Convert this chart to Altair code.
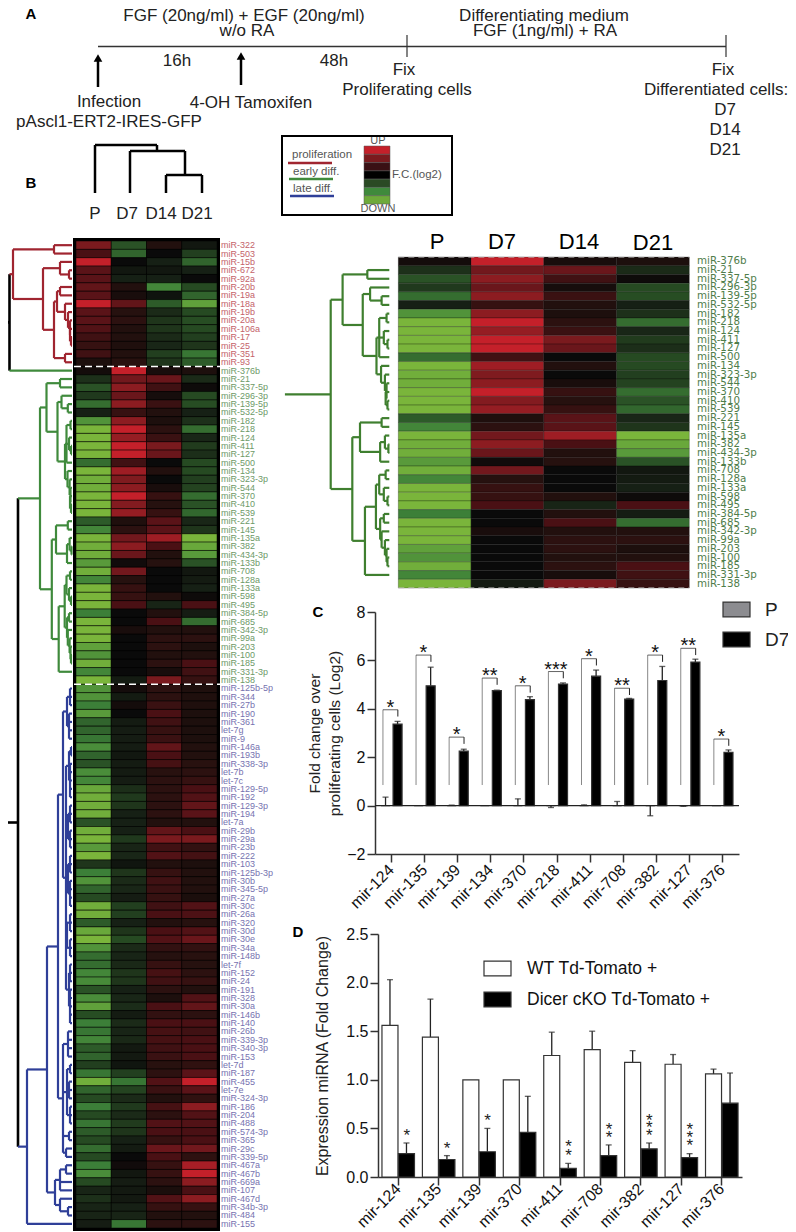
import altair as alt
import pandas as pd

FONT = "Liberation Sans"
RED, GREEN, BLUE, BLACK = "#a02530", "#3f8a3c", "#2f3f98", "#000000"

RED_NAMES = ["miR-322","miR-503","miR-15b","miR-672","miR-92a","miR-20b","miR-19a","miR-18a","miR-19b","miR-20a","miR-106a","miR-17","miR-25","miR-351","miR-93"]
RED_ROWS = [(6,-3.5,1,-.5),(3,-4.5,0,-2.5),(10,0,-1,-4.5),(4,-.5,-.5,-1),(4,-1,-1,0),(4.5,1,-6.5,-3),(4,.5,-.3,-4.5),(10,4.5,-4,-8.5),(4,1.2,-1.5,-3),(4,1.5,-2,-3.2),(3.5,1,-2,-3),(2.5,1,-1.5,-2.5),(2,.8,-1.3,-2),(2.5,1,-2.5,-5.5),(.7,1.3,-2,-4)]
GREEN_NAMES = ["miR-376b","miR-21","miR-337-5p","miR-296-3p","miR-139-5p","miR-532-5p","miR-182","miR-218","miR-124","miR-411","miR-127","miR-500","miR-134","miR-323-3p","miR-544","miR-370","miR-410","miR-539","miR-221","miR-145","miR-135a","miR-382","miR-434-3p","miR-133b","miR-708","miR-128a","miR-133a","miR-598","miR-495","miR-384-5p","miR-685","miR-342-3p","miR-99a","miR-203","miR-100","miR-185","miR-331-3p","miR-138"]
GREEN_ROWS = [(.3,10,.5,.7),(-1.8,5.5,5,-1.5),(-3.5,7,2.5,.1),(-2.2,5,.4,-3),(-5,7,2.2,-3.2),(-1,2,1,-1),(-7.5,7,.7,-1.8),(-10,10,1.5,-5),(-10,7.5,2.2,-1.3),(-10,10,6,-2.3),(-10,10,5,-1.7),(-5,2.5,0,-3),(-10,8,1,-3),(-9.5,6.3,0,-2.5),(-9.5,7,.5,-2.7),(-10,10,2,-5),(-10,6.5,1.2,-3.5),(-10,7.5,2,-4.7),(-4,.8,4,-1.3),(-6.5,1.5,4,-2),(-10,5.5,8,-10),(-9.5,7,3,-9),(-9.5,5,1,-8),(-8,.2,1.2,-3.5),(-9.5,5.5,0,-.5),(-6.5,1.2,0,-.7),(-10,2,0,-1),(-10,2,1,.1),(-10,3,-1.2,3),(-6,0,1,-.8),(-10,0,3,-5),(-10,.5,1,1),(-10,0,1.5,1.5),(-8.5,0,1.5,.7),(-7.5,0,1,1),(-9.5,0,1.5,3),(-6.5,0,.5,2.5),(-10,-.7,6,2)]
BLUE_NAMES = ["miR-125b-5p","miR-344","miR-27b","miR-190","miR-361","let-7g","miR-9","miR-146a","miR-193b","miR-338-3p","let-7b","let-7c","miR-129-5p","miR-192","miR-129-3p","miR-194","let-7a","miR-29b","miR-29a","miR-23b","miR-222","miR-103","miR-125b-3p","miR-30b","miR-345-5p","miR-27a","miR-30c","miR-26a","miR-320","miR-30d","miR-30e","miR-34a","miR-148b","let-7f","miR-152","miR-24","miR-191","miR-328","miR-30a","miR-146b","miR-140","miR-26b","miR-339-3p","miR-340-3p","miR-153","let-7d","miR-187","miR-455","let-7e","miR-324-3p","miR-186","miR-204","miR-488","miR-574-3p","miR-365","miR-29c","miR-339-5p","miR-467a","miR-467b","miR-669a","miR-107","miR-467d","miR-34b-3p","miR-484","miR-155"]
BLUE_ROWS = [(-7.5,.3,1.5,.8),(-7.5,-.7,1.5,.8),(-6,.3,2.2,.8),(-8,0,3,.7),(-4.5,-.7,2.5,.7),(-4.5,-.8,2,.7),(-5.5,-.8,2.2,.7),(-7,-.8,4.5,1),(-4.5,-.5,3,1),(-3.5,-.7,2.8,1.3),(-7,-.7,1.3,1.5),(-6.5,-.8,1.5,2),(-9,-1.7,1.5,3),(-9.5,-2.2,1.5,3.5),(-9.5,-2,1.5,4.5),(-9.5,-1,1.5,4),(-3.5,-1,1,1),(-9.5,-1,4.5,3),(-10,-2.2,6,6),(-8,-1.2,2.5,1.8),(-10,-1.3,3.5,2.7),(-2,-.4,1,.7),(-6,-2,2,1),(-7.5,-1.5,2.5,1),(-4.5,-1.3,2.2,1),(-3,-.8,2,.6),(-9.5,-2.5,2.5,3.5),(-9.5,-2.5,3,3.2),(-4,-1,1,1.2),(-9,-2,3,3.5),(-10,-3,3.5,5),(-7.5,-1.5,1.8,1.8),(-5,-1.2,1.2,1.3),(-5,-1.4,2,1.2),(-6.5,-2,2.8,1.5),(-6.8,-2,2.5,2),(-3.5,-1,1.5,1),(-7,-1.3,.7,3.5),(-8.5,-1.6,3,4.5),(-3.2,-.7,1.8,1.5),(-6,-1.5,3,3),(-5.5,-1.2,2.8,2.5),(-6.5,-1.4,2.8,3),(-4,-.6,2.5,3),(-4.5,-.6,2.2,3),(-2.5,-.4,1.3,1.7),(-5.5,-2.5,1.5,4),(-9.5,-5.5,3.5,10),(-4.5,-2.7,2.2,4),(-3,-1.5,1,1.7),(-6,-2.2,2.8,7),(-3,-1.5,1.5,3.5),(-5.5,-2.3,3.5,3.5),(-4,-2,3,3),(-3,-1,2,3),(-5,-.7,5,5.5),(-3,0,3,1.6),(-6,.2,2,8.5),(-7,-.5,2,10),(-3,-.8,1.5,7),(-1.2,-.6,.6,3),(-1.8,-.6,3.5,7),(-1.2,-1,2,2),(-1.2,-1.2,1,1),(-.8,-5.5,1.5,1.5)]

# dendrograms: (merge distance, children[, colour]); an integer child is a heat-map row
RED_TREE = (13, [(54, [0, 1]), (43, [(60, [2, (69, [3, 4])]),
            (54, [(57, [(60, [5, 6]), (65, [7, (68, [8, (70, [9, (70, [10, (71, [11, 12])])])])])]), (65, [13, 14])])])], RED)
GREEN_TREE = (40, [
    (46.5, [(60, [16, 17]), (57.5, [(61.5, [18, (67.8, [19, 20])]),
        (65, [(66.5, [(70.5, [21, 22]), (69, [23, (71, [24, 25])]), 26]),
              (67.5, [27, (69.6, [28, (70.5, [29, (70, [30, (71, [31, 32])])])])])])])]),
    (51.8, [(56, [(67.8, [33, 34]), (67, [(69.6, [35, (71.5, [36, 37])]), 38])]),
            (58.7, [(64.7, [(66.5, [(70, [39, 40]), (69, [41, (71, [42, 43])])]),
                            (67, [(69, [44, 45]), (67.8, [46, (69.6, [47, (70.5, [48, (71, [49, 50])])])])])]), 51])]),
], GREEN)
BLUE_TREE = (27, [(47, [(58, [
        (63, [(67, [(70, [53, 54, 55]), (69, [56, 57, 58, 59])]),
              (66, [(69, [(71, [60, 61]), (70, [62, 63, 64, 65, 66])]), (68, [(70, [67, 68, 69]), (70, [70, 71, 72])]),
                    (68, [(70, [73, 74, 75]), (70, [76, 77, 78, 79])]), (67, [(70, [80, 81, 82]), (70, [83, 84, 85])]),
                    (69, [(70, [86, 87, 88]), (70, [89, 90, 91, 92, 93])])])]),
        (63, [(68, [94, 95, 96, 97]), (67, [(70, [98, 99]), (69, [100, 101, 102]), (70, [103, 104, 105])]), (69, [106, 107]), (66, [108, 109])])]),
    (55, [(60, [(66, [110, 111]), 112, 113]), (60, [114, (68, [115, 116])])])]), 117], BLUE)
TREE = (0, [(9.5, [RED_TREE, (72, [15], GREEN)], BLACK), (18, [GREEN_TREE, BLUE_TREE], BLACK)], BLACK)

# panel C
GENES_C = ["mir-124","mir-135","mir-139","mir-134","mir-370","mir-218","mir-411","mir-708","mir-382","mir-127","mir-376"]
C_P = [0, 0, 0, 0, 0, 0, 0, 0, 0, 0, 0]
C_P_ERR = [.35, 0, .02, 0, .28, -.08, .03, .17, -.42, -.03, 0]
C_D7 = [3.37, 4.95, 2.25, 4.75, 4.38, 5.02, 5.35, 4.4, 5.17, 5.93, 2.2]
C_D7_ERR = [3.48, 5.72, 2.33, 4.77, 4.5, 5.07, 5.6, 4.43, 5.75, 6.05, 2.3]
C_BRACKET = [3.96, 6.22, 2.83, 5.27, 4.95, 5.54, 6.07, 4.85, 6.22, 6.5, 2.75]
C_STARS = ["*", "*", "*", "**", "*", "***", "*", "**", "*", "**", "*"]

# panel D
GENES_D = ["mir-124","mir-135","mir-139","mir-370","mir-411","mir-708","mir-382","mir-127","mir-376"]
WT_NAME, KO_NAME = "WT Td-Tomato +", "Dicer cKO Td-Tomato +"
D_WT = [1.56, 1.44, 1.0, 1.0, 1.25, 1.31, 1.18, 1.16, 1.06]
D_WT_ERR = [2.03, 1.83, 1.0, 1.0, 1.49, 1.5, 1.3, 1.26, 1.11]
D_KO = [.24, .18, .26, .46, .09, .22, .29, .2, .76]
D_KO_ERR = [.35, .22, .5, .83, .14, .33, .35, .24, 1.07]
D_STARS = [("mir-124", .44), ("mir-135", .31), ("mir-139", .6), ("mir-411", .33), ("mir-411", .24),
           ("mir-708", .5), ("mir-708", .42), ("mir-382", .6), ("mir-382", .52), ("mir-382", .44),
           ("mir-127", .5), ("mir-127", .42), ("mir-127", .34)]

# schematic texts: text, x, y, size, colour
TEXT_MID = [
    ("FGF (20ng/ml) + EGF (20ng/ml)", 244, 16, 17, "#222"), ("w/o RA", 247, 31, 17, "#222"),
    ("Differentiating medium", 544, 16, 17, "#222"), ("FGF (1ng/ml) + RA", 545, 31, 17, "#222"),
    ("16h", 177, 61, 17, "#222"), ("48h", 334, 61, 17, "#222"),
    ("Fix", 404, 70, 17, "#222"), ("Proliferating cells", 407, 90, 17, "#222"),
    ("Fix", 723, 70, 17, "#222"), ("Differentiated cells:", 716, 90, 17, "#222"),
    ("D7", 725, 110, 17, "#222"), ("D14", 725, 130, 17, "#222"), ("D21", 725, 150, 17, "#222"),
    ("Infection", 109, 102, 17, "#222"), ("pAscl1-ERT2-IRES-GFP", 109, 122, 17, "#222"), ("4-OH Tamoxifen", 251, 103, 17, "#222"),
    ("P", 95, 214, 17, "#222"), ("D7", 127, 214, 17, "#222"), ("D14", 161, 214, 17, "#222"), ("D21", 197, 214, 17, "#222"),
    ("UP", 378, 141, 11, "#555"), ("DOWN", 378, 209, 11, "#555"),
    ("P", 437, 242, 22, "#000"), ("D7", 502, 242, 22, "#000"), ("D14", 579, 242, 22, "#000"), ("D21", 653, 243, 22, "#000"),
]
TEXT_LEFT = [("proliferation", 292, 155, 11.5, "#555"), ("early diff.", 293, 172, 11.5, "#555"),
             ("late diff.", 293, 189, 11.5, "#555"), ("F.C.(log2)", 392, 175, 11.5, "#555")]
TEXT_BOLD = [("A", 31, 14, 15, "#000"), ("B", 31, 183, 15, "#000"), ("C", 318, 612, 15, "#000"), ("D", 298, 932, 15, "#000")]
# schematic lines: x1, y1, x2, y2, colour, width
LINES = [(98, 46.5, 726, 46.5, "#333", 1.5), (407, 35, 407, 57, "#333", 1.2), (726, 35, 726, 57, "#333", 1.2),
         (98, 87, 98, 60, "#000", 2.5), (241, 85, 241, 58, "#000", 2.5),
         (95, 193, 95, 145, "#000", 2.5), (95, 145, 157, 145, "#000", 2.5), (157, 145, 157, 151, "#000", 2.5),
         (130, 193, 130, 151, "#000", 2.5), (130, 151, 185, 151, "#000", 2.5), (185, 151, 185, 175, "#000", 2.5),
         (166, 193, 166, 175, "#000", 2.5), (166, 175, 202, 175, "#000", 2.5), (202, 175, 202, 193, "#000", 2.5),
         (288, 163, 332, 163, RED, 2.5), (289, 179, 333, 179, GREEN, 2.5), (290, 196, 334, 196, BLUE, 2.5)]
ARROW_TIPS = [(98, 58), (241, 56)]
BAR_COLORS = ["#c4202a", "#7a1a1e", "#3a1014", "#000000", "#2a4a24", "#3f8a3c", "#6eaa3a"]
BAR_EDGES = [146, 154.3, 162.6, 170.9, 179.1, 187.4, 195.7, 204]


def walk(node, col, segs):
    if isinstance(node, int):
        return 72, node + .5, col
    d, kids = node[:2]
    col = node[2] if len(node) > 2 else col
    info = [walk(k, col, segs) for k in kids]
    rows = [i[1] for i in info]
    segs.append(dict(d1=d, d2=d, r1=rows[0], r2=rows[-1], c=col, w=2.6 if col == BLACK else 2.2))
    for kd, kr, kc in info:
        segs.append(dict(d1=d, d2=kd, r1=kr, r2=kr, c=kc, w=2.6 if kc == BLACK else 2.2))
    return d, (rows[0] + rows[-1]) / 2, col


def px_x(field="x"):
    return alt.X(f"{field}:Q", scale=alt.Scale(domain=[8, 788], range=[0, 780]), axis=None)


def px_y(field="y"):
    return alt.Y(f"{field}:Q", scale=alt.Scale(domain=[8, 1232], range=[0, 1224]), axis=None)


def texts(rows, **mark):
    df = pd.DataFrame(rows, columns=["t", "x", "y", "s", "c"])
    return alt.Chart(df).mark_text(font=FONT, baseline="middle", **mark).encode(
        x=px_x(), y=px_y(), text="t:N", size=alt.Size("s:Q", scale=None), color=alt.Color("c:N", scale=None))


layers = [texts(TEXT_MID, align="center"), texts(TEXT_LEFT, align="left"), texts(TEXT_BOLD, align="center", fontWeight="bold")]

# --- schematic
dfl = pd.DataFrame(LINES, columns=["x", "y", "x2", "y2", "c", "w"])
layers.append(alt.Chart(dfl).mark_rule().encode(x=px_x(), x2="x2:Q", y=px_y(), y2="y2:Q",
              color=alt.Color("c:N", scale=None), strokeWidth=alt.StrokeWidth("w:Q", scale=None)))
layers.append(alt.Chart(pd.DataFrame(ARROW_TIPS, columns=["x", "y"])).mark_point(shape="triangle-up", filled=True, size=75, color="#000", opacity=1)
              .encode(x=px_x(), y=px_y()))
layers.append(alt.Chart(pd.DataFrame([dict(x=282, x2=452, y=136, y2=215)])).mark_rect(fill=None, stroke="#000", strokeWidth=2)
              .encode(x=px_x(), x2="x2:Q", y=px_y(), y2="y2:Q"))
dfb = pd.DataFrame(dict(x=364, x2=390, y=BAR_EDGES[:-1], y2=BAR_EDGES[1:], c=BAR_COLORS))
layers.append(alt.Chart(dfb).mark_rect(stroke="#555", strokeWidth=.5).encode(x=px_x(), x2="x2:Q", y=px_y(), y2="y2:Q",
              color=alt.Color("c:N", scale=None)))

# --- heat maps
cells = []
names = RED_NAMES + GREEN_NAMES + BLUE_NAMES
vals = RED_ROWS + GREEN_ROWS + BLUE_ROWS
label_cols = ["#c4626a"] * 15 + ["#6d9a68"] * 38 + ["#7672b0"] * 65
for r, row in enumerate(vals):
    for c, v in enumerate(row):
        cells.append(dict(row=r, row2=r + 1, col=c, col2=c + 1, v=v))
cells = pd.DataFrame(cells)
heat_scale = dict(domain=[-10, -6, -3, 0, 3, 6, 10], range=["#7ab53b", "#3c7f38", "#264a22", "#0a0a0a", "#4a1014", "#7a1a1e", "#c4202a"])


def heat_layers(df, xr, yr, rdom, sw):
    xs = alt.Scale(domain=[0, 4], range=xr)
    ys = alt.Scale(domain=rdom, range=yr)
    return alt.Chart(df).mark_rect(stroke="#000", strokeWidth=sw).encode(
        x=alt.X("col:Q", scale=xs, axis=None), x2="col2:Q",
        y=alt.Y("row:Q", scale=ys, axis=None), y2="row2:Q",
        color=alt.Color("v:Q", scale=alt.Scale(**heat_scale), legend=None))


# left
back = pd.DataFrame([dict(x=73, x2=220, y=238, y2=1231)])
layers.append(alt.Chart(back).mark_rect(fill="#000").encode(x=px_x(), x2="x2:Q", y=px_y(), y2="y2:Q"))
LEFT_Y = [233, 1220]
layers.append(heat_layers(cells, [68, 209], LEFT_Y, [0, 118], .5))
lab = pd.DataFrame(dict(n=names, r=[i + .5 for i in range(118)], c=label_cols))
layers.append(alt.Chart(lab).mark_text(font=FONT, fontSize=9, align="left", baseline="middle").encode(
    x=alt.value(213), y=alt.Y("r:Q", scale=alt.Scale(domain=[0, 118], range=LEFT_Y), axis=None),
    text="n:N", color=alt.Color("c:N", scale=None)))
dash = pd.DataFrame(dict(r=[15, 53]))
layers.append(alt.Chart(dash).mark_rule(color="#fff", strokeWidth=1.5, strokeDash=[7, 4]).encode(
    x=alt.value(66), x2=alt.value(213), y=alt.Y("r:Q", scale=alt.Scale(domain=[0, 118], range=LEFT_Y), axis=None)))

# left dendrogram
segs = []
walk(TREE, BLACK, segs)
segs = pd.DataFrame(segs)
layers.append(alt.Chart(segs).mark_rule().encode(
    x=alt.X("d1:Q", scale=alt.Scale(domain=[8, 72], range=[0, 64]), axis=None), x2="d2:Q",
    y=alt.Y("r1:Q", scale=alt.Scale(domain=[0, 118], range=LEFT_Y), axis=None), y2="r2:Q",
    color=alt.Color("c:N", scale=None), strokeWidth=alt.StrokeWidth("w:Q", scale=None)))

# right heat map
cg = cells[(cells.row >= 15) & (cells.row < 53)]
RIGHT_Y = [249, 580]
layers.append(heat_layers(cg, [390.3, 681.3], RIGHT_Y, [15, 53], .25))
lab2 = pd.DataFrame(dict(n=GREEN_NAMES, r=[15.5 + i for i in range(38)]))
layers.append(alt.Chart(lab2).mark_text(font="DejaVu Sans", fontSize=10.3, align="left", baseline="middle", color="#4f7d4a").encode(
    x=alt.value(689), y=alt.Y("r:Q", scale=alt.Scale(domain=[15, 53], range=RIGHT_Y), axis=None), text="n:N"))
layers.append(alt.Chart(pd.DataFrame(dict(r=[15, 53]))).mark_rule(color="#ccc", strokeWidth=1, strokeDash=[6, 4]).encode(
    x=alt.value(390.3), x2=alt.value(681.3), y=alt.Y("r:Q", scale=alt.Scale(domain=[15, 53], range=RIGHT_Y), axis=None)))
segs2 = []
_, rc, _ = walk(GREEN_TREE, GREEN, segs2)
segs2.append(dict(d1=15, d2=40, r1=rc, r2=rc, c=GREEN, w=2.2))
layers.append(alt.Chart(pd.DataFrame(segs2)).mark_rule(strokeWidth=2.2, color="#3f7f2f").encode(
    x=alt.X("d1:Q", scale=alt.Scale(domain=[40, 72], range=[322.7, 381.3]), axis=None), x2="d2:Q",
    y=alt.Y("r1:Q", scale=alt.Scale(domain=[15, 53], range=RIGHT_Y), axis=None), y2="r2:Q"))


# --- bar panels
def bar_layers(genes, groups, vals, errs, colors, xr, yr, ydom, yvals, ytitle, step_in, step_out, legend, offset_bottom, offset_left,
               label_fmt=None, ttl_pad=6, ttl_size=15.5, lab_pad=5):
    rows = []
    for g, v, e in zip(groups, vals, errs):
        for gene, a, b in zip(genes, v, e):
            rows.append(dict(gene=gene, group=g, v=a, e=b))
    df = pd.DataFrame(rows)
    xs = alt.Scale(domain=genes, range=xr, paddingInner=0, paddingOuter=0)
    xo = alt.XOffset("group:N", sort=groups, scale=alt.Scale(domain=groups, paddingInner=step_in, paddingOuter=step_out))
    ys = alt.Scale(domain=ydom, range=yr, nice=False, zero=False)
    xaxis = alt.Axis(orient="bottom", offset=offset_bottom, title=None, labelAngle=-45, labelAlign="right", labelBaseline="middle",
                     labelFontSize=16, labelFont=FONT, labelColor="#111", labelPadding=lab_pad, tickSize=8, tickWidth=1.5, tickColor="#333",
                     domainColor="#333", domainWidth=1.5, grid=False, labelOverlap=False, labelBound=False, labelFlush=False)
    yaxis = alt.Axis(orient="left", offset=offset_left, title=ytitle, values=yvals, format=label_fmt or "", labelFontSize=16, labelFont=FONT,
                     labelColor="#111", tickSize=8, tickWidth=1.5, tickColor="#333", domainColor="#333", domainWidth=1.5, grid=False,
                     titleFont=FONT, titleFontSize=ttl_size, titleFontWeight="normal", titleColor="#222", titlePadding=ttl_pad, titleLineHeight=20,
                     labelPadding=2, labelFlush=False, labelBound=False)
    x_plain = alt.X("gene:N", scale=xs, sort=genes, axis=None)
    y_plain = alt.Y("e:Q", scale=ys, axis=None)
    out = []
    out.append(alt.Chart(df).mark_rule(color="#222", strokeWidth=1.3).encode(x=x_plain, xOffset=xo, y=y_plain, y2="v:Q"))
    out.append(alt.Chart(df[df.e != df.v]).mark_tick(color="#222", size=6, thickness=1.3, orient="horizontal").encode(x=x_plain, xOffset=xo, y=y_plain))
    out.append(alt.Chart(df).mark_bar(stroke="#333", strokeWidth=1.2).encode(
        x=alt.X("gene:N", scale=xs, sort=genes, axis=xaxis), xOffset=xo,
        y=alt.Y("v:Q", scale=ys, axis=yaxis),
        color=alt.Color("group:N", scale=alt.Scale(domain=groups, range=colors), legend=legend)))
    return out, x_plain, ys


leg_c = alt.Legend(orient="none", legendX=714, legendY=587, title=None, symbolType="M-1,-0.55H1V0.55H-1Z", symbolSize=729, symbolStrokeColor="#333",
                   symbolStrokeWidth=1.2, labelFontSize=19, labelFont=FONT, labelColor="#222", labelOffset=14, rowPadding=5, symbolOpacity=1)
bars_c, xc, ysc = bar_layers(GENES_C, ["P", "D7"], [C_P, C_D7], [C_P_ERR, C_D7_ERR], ["#8c8c90", "#000000"],
                             [367, 731], [846, 604], [-2, 8], [-2, 0, 2, 4, 6, 8],
                             ["Fold change over", "proliferating cells (Log2)"], .25, .5, leg_c, -378, -367, None, 4)
layers += bars_c
layers.append(alt.Chart(pd.DataFrame(dict(z=[0]))).mark_rule(color="#222", strokeWidth=1.2).encode(
    x=alt.value(367), x2=alt.value(731), y=alt.Y("z:Q", scale=ysc, axis=None)))
dfs = pd.DataFrame(dict(gene=GENES_C, top=C_BRACKET, low=[.85] * 11, inner=[t - .28 for t in C_BRACKET], s=C_STARS))
layers.append(alt.Chart(dfs).mark_rule(color="#888", strokeWidth=1, xOffset=-8.6).encode(x=xc, y=alt.Y("low:Q", scale=ysc, axis=None), y2="top:Q"))
layers.append(alt.Chart(dfs).mark_rule(color="#222", strokeWidth=1, xOffset=6.3).encode(x=xc, y=alt.Y("top:Q", scale=ysc, axis=None), y2="inner:Q"))
layers.append(alt.Chart(dfs).mark_tick(color="#222", size=15, thickness=1, orient="horizontal", xOffset=-1.15).encode(x=xc, y=alt.Y("top:Q", scale=ysc, axis=None)))
layers.append(alt.Chart(dfs).mark_text(font=FONT, fontSize=20, color="#111", dy=-2, baseline="middle", xOffset=-1.15).encode(x=xc, y=alt.Y("top:Q", scale=ysc, axis=None), text="s:N"))

leg_d = alt.Legend(orient="none", legendX=475, legendY=946, title=None, symbolType="M-1,-0.55H1V0.55H-1Z", symbolSize=729, symbolStrokeColor="#333",
                   symbolStrokeWidth=1.2, labelFontSize=17.5, labelFont=FONT, labelColor="#111", labelOffset=15, rowPadding=6, symbolOpacity=1, labelLimit=300)
bars_d, xd, ysd = bar_layers(GENES_D, [WT_NAME, KO_NAME], [D_WT, D_KO], [D_WT_ERR, D_KO_ERR], ["#ffffff", "#000000"],
                             [370, 734], [1169, 926], [0, 2.5], [0, .5, 1, 1.5, 2, 2.5],
                             "Expression miRNA (Fold Change)", .03, .24, leg_d, -55, -370, ".1f", 15, 16, 1)
layers += bars_d
dfd = pd.DataFrame(D_STARS, columns=["gene", "v"])
dfd["s"] = "*"
layers.append(alt.Chart(dfd).mark_text(font=FONT, fontSize=17, color="#222", dy=2, baseline="middle", xOffset=8.5).encode(
    x=xd, y=alt.Y("v:Q", scale=ysd, axis=None), text="s:N"))

chart = alt.layer(*layers).resolve_scale(
    x="independent", y="independent", color="independent", xOffset="independent", size="independent", strokeWidth="independent"
).resolve_axis(x="independent", y="independent").resolve_legend(color="independent").properties(
    width=780, height=1224, padding=0, autosize=alt.AutoSizeParams(type="none")
).configure_view(stroke=None)

chart.save("out.html", embed_options={"renderer": "svg", "actions": False})
